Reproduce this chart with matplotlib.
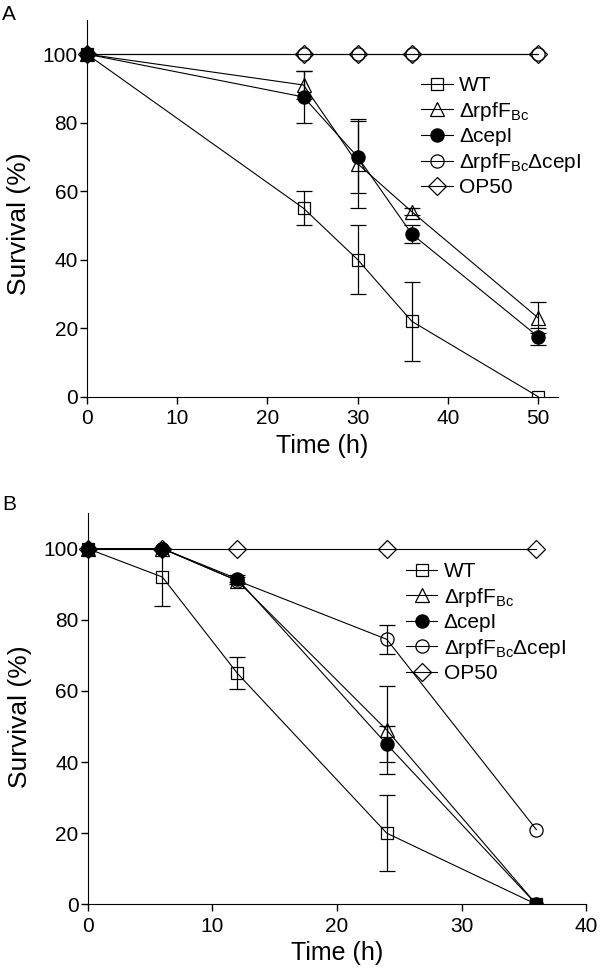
import numpy as np
import matplotlib
matplotlib.use('Agg')
import matplotlib.pyplot as plt
from matplotlib.patches import Rectangle

plt.rcParams['font.family'] = ['Liberation Sans', 'DejaVu Sans']
plt.rcParams['mathtext.fontset'] = 'custom'
plt.rcParams['mathtext.rm'] = 'Liberation Sans'

labels = ['WT', r'ΔrpfF$_{\mathregular{Bc}}$', 'ΔcepI',
          r'ΔrpfF$_{\mathregular{Bc}}$ΔcepI', 'OP50']

# Panel A
time_a = [0, 24, 30, 36, 50]
wt_a = [100, 55, 40, 22, 0]
wt_a_err = [0, 5, 10, 11.5, 0]
rpf_a = [100, 91, 68, 54, 23]
rpf_a_err = [0, 4, 13, 1, 4.5]
cep_a = [100, 87.5, 70, 47.5, 17.5]
cep_a_err = [0, 7.5, 10.5, 2.5, 2.5]
dbl_a = [100, 100, 100, 100, 100]
dbl_a_err = [0, 0, 0, 0, 0]
op_a = [100, 100, 100, 100, 100]
op_a_err = [0, 0, 0, 0, 0]

# Panel B
time_b = [0, 6, 12, 24, 36]
wt_b = [100, 92, 65, 20, 0]
wt_b_err = [0, 8, 4.5, 10.7, 0]
rpf_b = [100, 100, 91, 49, 0]
rpf_b_err = [0, 0, 1, 12.5, 0]
cep_b = [100, 100, 91.5, 45, 0]
cep_b_err = [0, 0, 1, 5, 0]
dbl_b = [100, 100, 91, 74.5, 21]
dbl_b_err = [0, 0, 0, 4, 0]
op_b = [100, 100, 100, 100, 100]
op_b_err = [0, 0, 0, 0, 0]

styles = [
    dict(marker='s', mfc='none', ms=9),
    dict(marker='^', mfc='none', ms=10),
    dict(marker='o', mfc='black', ms=9.5),
    dict(marker='o', mfc='none', ms=9.5),
    dict(marker='D', mfc='none', ms=9),
]

fig = plt.figure(figsize=(6, 9.77), dpi=100)
ax_a = fig.add_axes([0.145, 0.594, 0.785, 0.3856])
ax_b = fig.add_axes([0.146, 0.0744, 0.831, 0.4005])


def draw(ax, t, series, errs, xmax, xticks, leg_x, leg_y, spacing, ylab_x, ylab_y):
    clip = Rectangle((-0.08, 0), 1.2, 1.2, transform=ax.transAxes)
    t = np.array(t)
    for lab, y, e, st in zip(labels, series, errs, styles):
        y = np.array(y)
        e = np.array(e)
        m = e > 0
        if m.any():
            eb = ax.errorbar(t[m], y[m], yerr=e[m], fmt='none', ecolor='black',
                             elinewidth=0.9, capsize=5.7, capthick=0.9)
            for c in eb.lines[1]:
                c.set_clip_path(clip)
            for c in eb.lines[2]:
                c.set_clip_path(clip)
        ln, = ax.plot(t, y, color='black', lw=0.8, mec='black', mew=0.9,
                      label=lab, **st)
        ln.set_clip_path(clip)
    ax.set_xlim(0, xmax)
    ax.set_ylim(0, 110)
    ax.set_xticks(xticks)
    ax.set_yticks([0, 20, 40, 60, 80, 100])
    ax.spines['top'].set_visible(False)
    ax.spines['right'].set_visible(False)
    ax.tick_params(direction='out', length=5, width=1, labelsize=15)
    ax.tick_params(axis='y', pad=1.5)
    ax.tick_params(axis='x', pad=4)
    ax.set_xlabel('Time (h)', fontsize=18, labelpad=4)
    ax.set_ylabel('Survival (%)', fontsize=19)
    ax.yaxis.set_label_coords(ylab_x, ylab_y)
    ax.legend(loc='center left', bbox_to_anchor=(leg_x, leg_y), frameon=False,
              fontsize=15, handlelength=1.5, handletextpad=0.3,
              labelspacing=spacing, borderaxespad=0, borderpad=0)


draw(ax_a, time_a, [wt_a, rpf_a, cep_a, dbl_a, op_a],
     [wt_a_err, rpf_a_err, cep_a_err, dbl_a_err, op_a_err],
     52.2, [0, 10, 20, 30, 40, 50], 0.71, 0.69, 0.22, -0.118, 0.46)
draw(ax_b, time_b, [wt_b, rpf_b, cep_b, dbl_b, op_b],
     [wt_b_err, rpf_b_err, cep_b_err, dbl_b_err, op_b_err],
     40, [0, 10, 20, 30, 40], 0.639, 0.72, 0.22, -0.112, 0.48)

fig.text(0.003, 0.985, 'A', fontsize=15, va='center')
fig.text(0.003, 0.484, 'B', fontsize=15, va='center')

fig.savefig('out.png', dpi=100)
